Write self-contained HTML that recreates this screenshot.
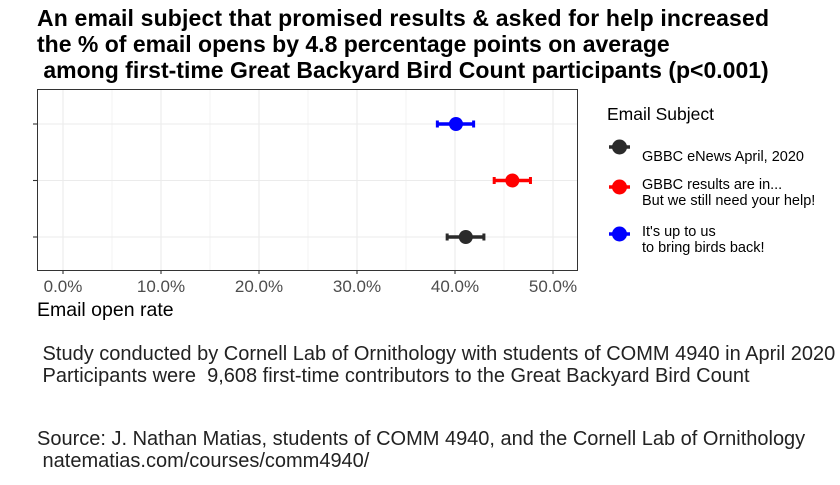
<!DOCTYPE html>
<html><head><meta charset="utf-8"><style>
body{margin:0;background:#fff;font-family:"Liberation Sans",Arial,sans-serif;}
svg text{font-family:"Liberation Sans",Arial,sans-serif;}
</style></head><body>
<svg width="840" height="480" viewBox="0 0 840 480">
<text x="37" y="26" font-size="23" font-weight="bold" fill="#000" textLength="732">An email subject that promised results &amp; asked for help increased</text>
<text x="37" y="52" font-size="23" font-weight="bold" fill="#000">the % of email opens by 4.8 percentage points on average</text>
<text x="37" y="78" font-size="23" font-weight="bold" fill="#000" xml:space="preserve"> among first-time Great Backyard Bird Count participants (p&lt;0.001)</text>
<g id="grid"></g>
<g id="marks"></g>
<rect x="37.5" y="89.5" width="540" height="181" fill="none" stroke="#333" stroke-width="1"/>
<g id="xaxis"></g>
<text x="37" y="316" font-size="19.5" fill="#000">Email open rate</text>
<text x="607" y="120" font-size="17.5" fill="#000">Email Subject</text>
<g id="legend"></g>
<text x="37" y="360" font-size="20" fill="#222" xml:space="preserve"> Study conducted by Cornell Lab of Ornithology with students of COMM 4940 in April 2020</text>
<text x="37" y="382" font-size="20" fill="#222" xml:space="preserve"> Participants were  9,608 first-time contributors to the Great Backyard Bird Count</text>
<text x="37" y="445" font-size="20" fill="#222">Source: J. Nathan Matias, students of COMM 4940, and the Cornell Lab of Ornithology</text>
<text x="37" y="467" font-size="20" fill="#222" xml:space="preserve"> natematias.com/courses/comm4940/</text>
</svg>
<script>
const categories=["GBBC eNews April, 2020","GBBC results are in... But we still need your help!","It's up to us to bring birds back!"];
const means=[41.1,45.85,40.1];
const lows=[39.2,44.0,38.2];
const highs=[42.95,47.7,41.9];
const colors=["#2b2b2b","#ff0000","#0000ff"];
const xTicks=[0,10,20,30,40,50];
const xTickLabels=["0.0%","10.0%","20.0%","30.0%","40.0%","50.0%"];
const legendLabels=[["GBBC eNews April, 2020"],["GBBC results are in...","But we still need your help!"],["It's up to us","to bring birds back!"]];
const NS="http://www.w3.org/2000/svg";
const x=v=>63+v*9.8;
const y=i=>237-i*56.5;
function mk(t,a,p){const e=document.createElementNS(NS,t);for(const k in a)e.setAttribute(k,a[k]);p.appendChild(e);return e;}
const grid=document.getElementById('grid'),marks=document.getElementById('marks'),xa=document.getElementById('xaxis'),lg=document.getElementById('legend');
for(let v=0;v<=50;v+=5){const g=mk('line',{x1:x(v),x2:x(v),y1:90,y2:270,stroke:'#ebebeb','stroke-width':v%10?0.6:1.1},grid);

}
categories.forEach((c,i)=>{const g=mk('line',{x1:37,x2:577,y1:y(i),y2:y(i),stroke:'#ebebeb','stroke-width':1.1},grid);


const t=mk('line',{x1:33,x2:37,y1:y(i),y2:y(i),stroke:'#333','stroke-width':1.1},xa);


const eb=mk('g',{},marks);


mk('line',{x1:x(lows[i]),x2:x(highs[i]),y1:y(i),y2:y(i),stroke:colors[i],'stroke-width':3.5},eb);
mk('line',{x1:x(lows[i]),x2:x(lows[i]),y1:y(i)-3.5,y2:y(i)+3.5,stroke:colors[i],'stroke-width':3},eb);
mk('line',{x1:x(highs[i]),x2:x(highs[i]),y1:y(i)-3.5,y2:y(i)+3.5,stroke:colors[i],'stroke-width':3},eb);
const p=mk('circle',{cx:x(means[i]),cy:y(i),r:7,fill:colors[i]},marks);


const ly=[147,187,234][i];
const le=mk('g',{},lg);


mk('line',{x1:609,x2:630,y1:ly,y2:ly,stroke:colors[i],'stroke-width':3.5},le);
mk('circle',{cx:619.5,cy:ly,r:7.5,fill:colors[i]},le);
const lines=legendLabels[i];const y0=lines.length>1?ly+2:ly+14;
lines.forEach((s,k)=>{const tt=mk('text',{x:642,y:y0+k*16,'font-size':14.5,fill:'#000'},le);tt.textContent=s;});
});
xTicks.forEach((v,i)=>{const t=mk('line',{x1:x(v),x2:x(v),y1:270,y2:274,stroke:'#333','stroke-width':1.1},xa);


const l=mk('text',{x:x(v),y:292,'font-size':17,fill:'#4d4d4d','text-anchor':'middle'},xa);


l.textContent=xTickLabels[i];});
</script>
</body></html>
